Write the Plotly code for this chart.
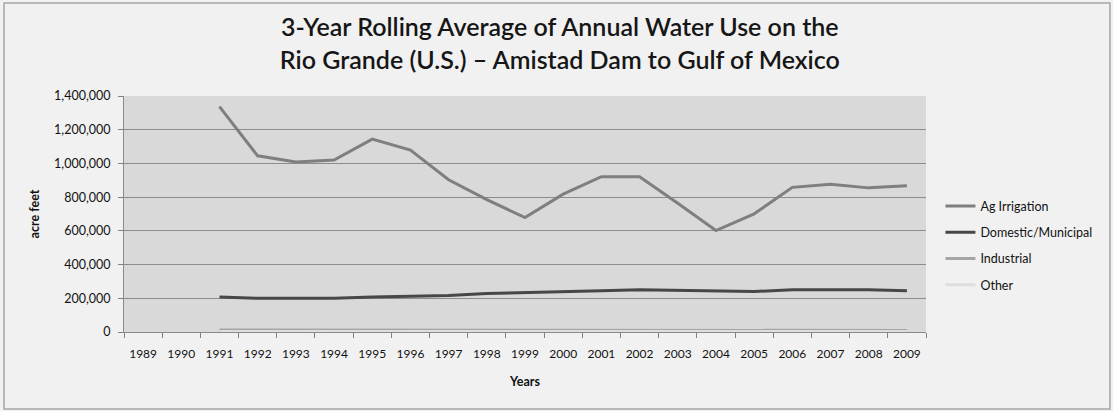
import plotly.graph_objects as go

# Years on the category axis
years = [str(y) for y in range(1989, 2010)]

# 3-year rolling averages (acre feet); first two years have no rolling value
ag_irrigation = [None, None, 1337000, 1045000, 1008000, 1020000, 1144000, 1079000,
                 903000, 785000, 679000, 818000, 921000, 921000, 764000, 602000,
                 701000, 858000, 876000, 855000, 868000]
domestic_municipal = [None, None, 207000, 200000, 200000, 200000, 207000, 213000,
                      216000, 228000, 232000, 238000, 244000, 250000, 246000, 240000,
                      240000, 250000, 251000, 251000, 245000]
industrial = [None, None, 12000, 12000, 12000, 12000, 12000, 12000, 12000, 12000,
              12000, 12000, 12000, 12000, 12000, 12000, 12000, 12000, 12000, 12000, 9000]
other = [None, None, 3000, 3000, 3000, 3000, 3000, 3000, 3000, 3000, 3000, 3000,
         3000, 3000, 3000, 3000, 3000, 3000, 3000, 3000, 3000]

y_ticks = [0, 200000, 400000, 600000, 800000, 1000000, 1200000, 1400000]
y_tick_text = ["0", "200,000", "400,000", "600,000", "800,000",
               "1,000,000", "1,200,000", "1,400,000"]

FONT = "Lato, 'Open Sans', sans-serif"
TEXT = "#111111"

series = [
    ("Ag Irrigation", ag_irrigation, "#7f7f7f"),
    ("Domestic/Municipal", domestic_municipal, "#474747"),
    ("Industrial", industrial, "#a5a5a5"),
    ("Other", other, "#dedede"),
]

fig = go.Figure()
for name, vals, color in series:
    fig.add_trace(go.Scatter(
        x=years, y=vals, name=name, mode="lines", legendgroup=name,
        line=dict(color=color, width=3),
        connectgaps=False,
    ))

fig.update_layout(
    width=1113, height=411,
    margin=dict(l=124, r=187, t=96, b=79),
    paper_bgcolor="#f1f1f1",
    plot_bgcolor="#d9d9d9",
    font=dict(family=FONT, size=12, color=TEXT),
    title=dict(
        text="3-Year Rolling Average of Annual Water Use on the<br>"
             "Rio Grande (U.S.) \u2013 Amistad Dam to Gulf of Mexico",
        x=0.503, xanchor="center", y=0.912, yanchor="middle",
        font=dict(family=FONT, size=25, color="#161616", weight=600),
    ),
    showlegend=True,
    legend=dict(
        x=1.018, xanchor="left", y=0.367, yanchor="middle",
        bgcolor="rgba(0,0,0,0)",
        font=dict(family=FONT, size=12.5, color=TEXT),
        tracegroupgap=7, itemwidth=30,
    ),
    shapes=[dict(
        type="rect", xref="paper", yref="paper",
        x0=-0.1496, x1=1.2294, y0=-0.326, y1=1.394,
        line=dict(color="#a6a6a6", width=1.5), fillcolor="rgba(0,0,0,0)",
        layer="below",
    )],
)

fig.update_xaxes(
    type="category",
    categoryorder="array", categoryarray=years,
    range=[-0.5, 20.5],
    tickson="boundaries",
    ticks="outside", ticklen=5, tickcolor="#7f7f7f",
    ticklabelstandoff=11,
    showline=True, linecolor="#8a8a8a", linewidth=1,
    showgrid=False,
    tickfont=dict(family=FONT, size=12, color=TEXT),
    title=dict(text="<b>Years</b>", standoff=16,
               font=dict(family=FONT, size=12.5, color=TEXT)),
)

fig.update_yaxes(
    range=[0, 1400000],
    tickvals=y_ticks, ticktext=y_tick_text,
    ticks="outside", ticklen=5, tickcolor="#7f7f7f",
    ticklabelstandoff=5,
    showline=True, linecolor="#8a8a8a", linewidth=1,
    showgrid=True, gridcolor="#8c8c8c", gridwidth=1,
    zeroline=False,
    tickfont=dict(family=FONT, size=12.5, color=TEXT),
    title=dict(text="<b>acre feet</b>", standoff=11,
               font=dict(family=FONT, size=12.5, color=TEXT)),
)

fig.write_html("out.html")
